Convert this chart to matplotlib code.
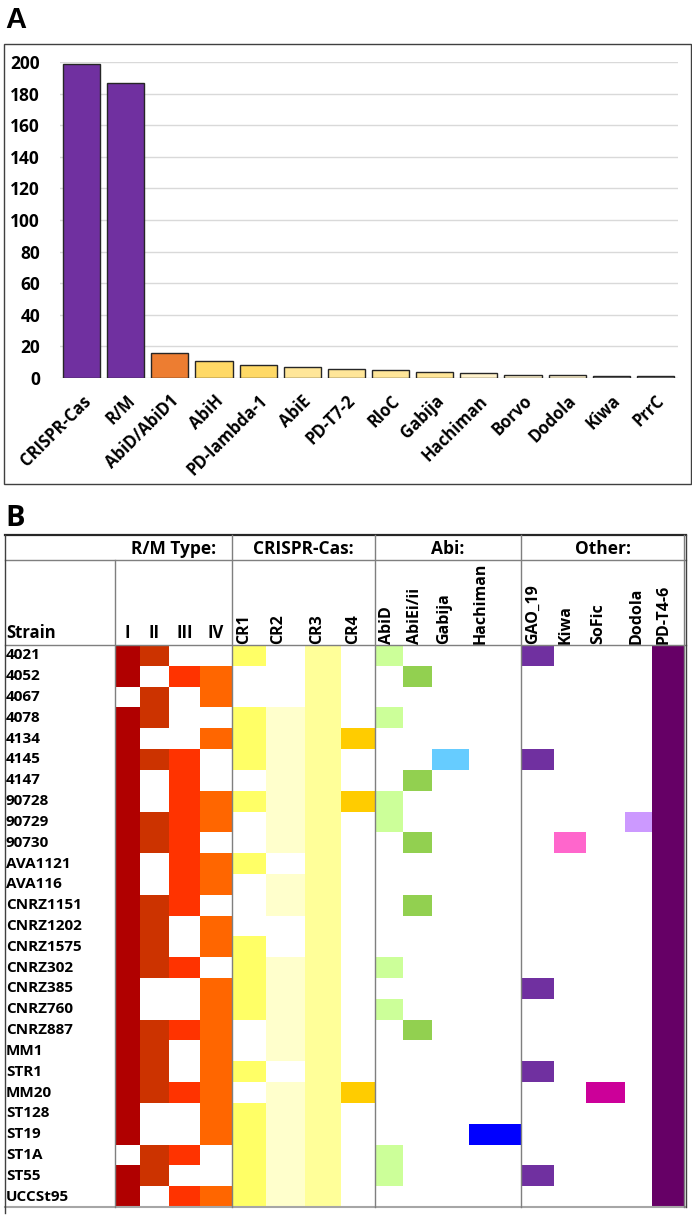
import matplotlib
matplotlib.use("Agg")
import matplotlib.pyplot as plt
from matplotlib.patches import Rectangle

plt.rcParams["font.family"] = ["Open Sans", "DejaVu Sans"]
plt.rcParams["font.weight"] = "bold"

# ---- Panel A data ----
systems = ["CRISPR-Cas", "R/M", "AbiD/AbiD1", "AbiH", "PD-lambda-1", "AbiE",
           "PD-T7-2", "RloC", "Gabija", "Hachiman", "Borvo", "Dodola", "Kiwa", "PrrC"]
counts = [199, 187, 16, 11, 8, 7, 6, 5, 4, 3, 2, 2, 1, 1]
bar_colors = ["#7030A0", "#7030A0", "#ED7D31", "#FFD966", "#FFD966", "#FFE699",
              "#FFE699", "#FFE699", "#FFE699", "#FFF2CC", "#FFF2CC", "#FFF2CC",
              "#808080", "#808080"]

# ---- Panel B data ----
strains = ["4021", "4052", "4067", "4078", "4134", "4145", "4147", "90728", "90729",
           "90730", "AVA1121", "AVA116", "CNRZ1151", "CNRZ1202", "CNRZ1575", "CNRZ302",
           "CNRZ385", "CNRZ760", "CNRZ887", "MM1", "STR1", "MM20", "ST128", "ST19",
           "ST1A", "ST55", "UCCSt95"]

rm_I = [s for s in strains if s not in ("4067", "ST1A")]
rm_II = ["4021", "4067", "4078", "4145", "90729", "90730", "CNRZ1151", "CNRZ1202",
         "CNRZ1575", "CNRZ302", "CNRZ887", "MM1", "STR1", "MM20", "ST1A", "ST55"]
rm_III = ["4052", "4145", "4147", "90728", "90729", "90730", "AVA1121", "AVA116",
          "CNRZ1151", "CNRZ302", "CNRZ887", "MM20", "ST1A", "UCCSt95"]
rm_IV = ["4052", "4067", "4134", "90728", "90729", "AVA1121", "AVA116", "CNRZ1202",
         "CNRZ1575", "CNRZ385", "CNRZ760", "CNRZ887", "MM1", "STR1", "MM20", "ST128",
         "ST19", "UCCSt95"]
cr1 = ["4021", "4078", "4134", "4145", "90728", "AVA1121", "CNRZ1575", "CNRZ302",
       "CNRZ385", "CNRZ760", "STR1", "ST128", "ST19", "ST1A", "ST55", "UCCSt95"]
cr2 = ["4078", "4134", "4145", "4147", "90728", "90729", "90730", "AVA116", "CNRZ1151",
       "CNRZ302", "CNRZ385", "CNRZ760", "CNRZ887", "MM1", "MM20", "ST128", "ST19",
       "ST1A", "ST55", "UCCSt95"]
cr3 = list(strains)
cr4 = ["4134", "90728", "MM20"]
abid = ["4021", "4078", "90728", "90729", "CNRZ302", "CNRZ760", "ST1A", "ST55"]
abiei = ["4052", "4147", "90730", "CNRZ1151", "CNRZ887"]
gabija = ["4145"]
hachiman = ["ST19"]
gao19 = ["4021", "4145", "CNRZ385", "STR1", "ST55"]
kiwa = ["90730"]
sofic = ["MM20"]
dodola = ["90729"]
pdt46 = list(strains)

col_names = ["I", "II", "III", "IV", "CR1", "CR2", "CR3", "CR4", "AbiD", "AbiEi/ii",
             "Gabija", "Hachiman", "GAO_19", "Kiwa", "SoFic", "Dodola", "PD-T4-6"]
col_members = [rm_I, rm_II, rm_III, rm_IV, cr1, cr2, cr3, cr4, abid, abiei, gabija,
               hachiman, gao19, kiwa, sofic, dodola, pdt46]
col_colors = ["#B00000", "#CC3300", "#FF3300", "#FF6600", "#FFFF66", "#FFFFCC",
              "#FFFF99", "#FFCC00", "#CCFF99", "#92D050", "#66CCFF", "#0000FF",
              "#7030A0", "#FF66CC", "#CC0099", "#CC99FF", "#660066"]
groups = ["R/M Type:", "CRISPR-Cas:", "Abi:", "Other:"]

# ---- layout (pixels) ----
W, H = 692, 1221
col_edges = [115, 140, 169, 200, 232, 266, 305, 341, 375, 403, 432, 469, 521,
             554, 586, 625, 652, 684]
group_edges = [115, 232, 375, 521, 684]
tab_left, tab_right = 5, 686
y_top, y_grp, y_hdr, y_bot = 535, 560, 645, 1207
row_h = (y_bot - y_hdr) / len(strains)
line_c = "#7F7F7F"

fig = plt.figure(figsize=(W / 100, H / 100), dpi=100)

# table drawn in a full-figure pixel-space axes
tab = fig.add_axes([0, 0, 1, 1])
tab.set_xlim(0, W)
tab.set_ylim(H, 0)
tab.axis("off")
tab.patch.set_alpha(0)

for j, (members, c) in enumerate(zip(col_members, col_colors)):
    x0, x1 = col_edges[j], col_edges[j + 1]
    rows = [strains.index(s) for s in members]
    tab.barh([y_hdr + row_h * (r + 0.5) for r in rows], x1 - x0, left=x0,
             height=row_h, color=c, linewidth=0)

for i, s in enumerate(strains):
    tab.text(6, y_hdr + row_h * (i + 0.5), s, fontsize=11, fontweight="bold",
             ha="left", va="center")

# grid lines
tab.plot([tab_left, tab_right], [y_top, y_top], color="#262626", lw=1.6)
tab.plot([tab_left, tab_right], [y_grp, y_grp], color=line_c, lw=1)
tab.plot([tab_left, tab_right], [y_hdr, y_hdr], color=line_c, lw=1)
tab.plot([tab_left, tab_right], [y_bot, y_bot], color="#A6A6A6", lw=1.5)
tab.plot([tab_left, tab_left], [y_top, y_bot + 6], color="#404040", lw=1)
tab.plot([tab_right, tab_right], [y_top, y_bot], color="#404040", lw=1)
tab.plot([group_edges[0], group_edges[0]], [y_grp, y_bot], color=line_c, lw=1)
for x in group_edges[1:]:
    tab.plot([x, x], [y_top, y_bot], color=line_c, lw=1)

for g, (a, b) in zip(groups, zip(group_edges[:-1], group_edges[1:])):
    tab.text((a + b) / 2, (y_top + y_grp) / 2 + 1, g, fontsize=12.5, fontweight="bold",
             ha="center", va="center")

tab.text(6, y_hdr - 3, "Strain", fontsize=12, fontweight="bold", ha="left", va="bottom")
for j, name in enumerate(col_names):
    x0, x1 = col_edges[j], col_edges[j + 1]
    if j < 4:
        tab.text((x0 + x1) / 2, y_hdr - 3, name, fontsize=12, fontweight="bold",
                 ha="center", va="bottom")
    else:
        tab.text(x0 + 12, y_hdr - 1, name, fontsize=11.5, fontweight="bold",
                 ha="center", va="bottom", rotation=90)

# panel letters
fig.text(5 / W, 1 - 28 / H, "A", fontsize=21, fontweight="bold",
         family=["Liberation Sans Narrow", "Liberation Sans"])
fig.text(5 / W, 1 - 526 / H, "B", fontsize=21, fontweight="bold")

# panel A frame
fig.add_artist(Rectangle((4 / W, 1 - 484 / H), 687 / W, 440 / H, transform=fig.transFigure,
                         fill=False, edgecolor="#404040", lw=1))

# ---- Panel A bar chart ----
ax = fig.add_axes([59.5 / W, 1 - 378 / H, 618 / W, 316 / H])
x = range(len(systems))
ax.bar(x, counts, width=0.84, color=bar_colors, edgecolor="#262626", linewidth=1,
       zorder=3)
ax.set_xlim(-0.5, len(systems) - 0.5)
ax.set_ylim(0, 200)
ax.set_yticks(range(0, 201, 20))
ax.grid(axis="y", color="#D9D9D9", lw=1, zorder=0)
for sp in ax.spines.values():
    sp.set_visible(False)
ax.tick_params(axis="y", length=0, pad=14, labelsize=12.5)
ax.tick_params(axis="x", length=0, pad=10, labelsize=12)
ax.set_xticks(list(x))
ax.set_xticklabels(systems, rotation=45, ha="right", rotation_mode="anchor")
for lab in ax.get_xticklabels() + ax.get_yticklabels():
    lab.set_fontweight("bold")
ax.patch.set_alpha(0)

fig.savefig("out.png", dpi=100)
